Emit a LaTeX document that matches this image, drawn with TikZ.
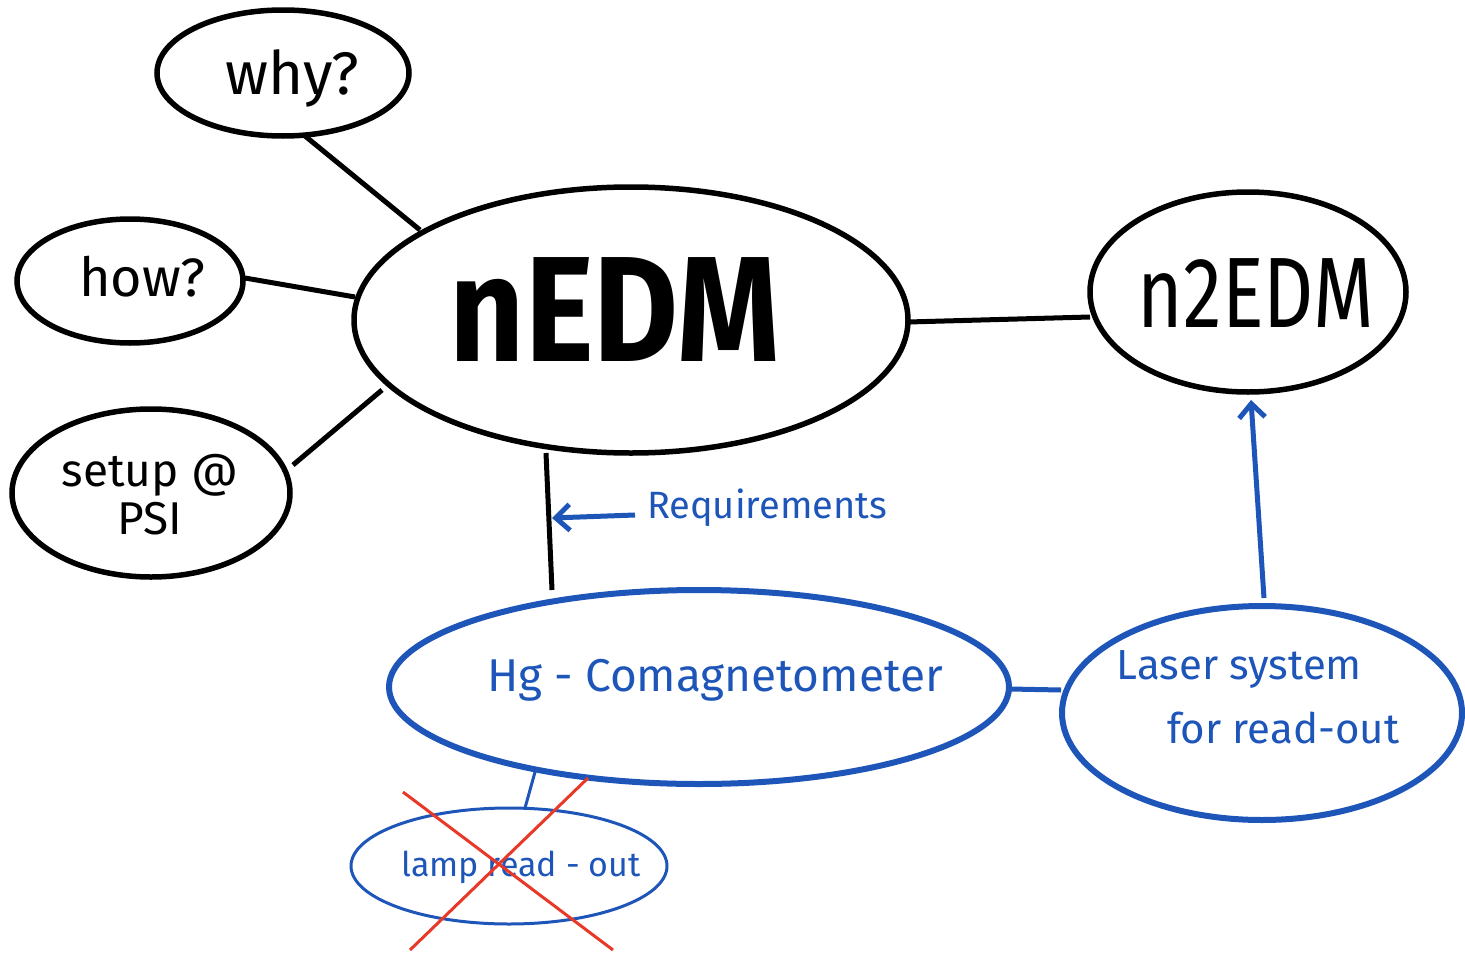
\documentclass[tikz,border=0pt]{standalone}
\usepackage{fontspec}
\setmainfont{Fira Sans}
\usetikzlibrary{arrows.meta}
\definecolor{inkblue}{RGB}{30,85,185}
\definecolor{inkred}{RGB}{232,56,40}
\tikzset{
  bubble/.style={draw=black,line width=5.5pt},
  bluebubble/.style={draw=inkblue,line width=6pt},
  thinblue/.style={draw=inkblue,line width=3pt},
  conn/.style={line width=5pt,black},
  bconn/.style={line width=5pt,inkblue},
  barrow/.style={line width=5pt,inkblue,-{Straight Barb[length=14pt,width=26pt]}},
  cross/.style={line width=3pt,inkred},
  lbl/.style={font=#1, inner sep=0pt},
}
\begin{document}
\begin{tikzpicture}[x=1pt,y=-1pt]
\useasboundingbox (0,0) rectangle (1465,953);
% ellipses
\draw[bubble] (283,73) ellipse [x radius=126, y radius=63];
\draw[bubble] (130,281) ellipse [x radius=113, y radius=62];
\draw[bubble] (151,493) ellipse [x radius=139, y radius=84];
\draw[bubble] (631,320) ellipse [x radius=277, y radius=133];
\draw[bubble] (1248,292) ellipse [x radius=158, y radius=100];
\draw[bluebubble] (699,687) ellipse [x radius=310, y radius=97];
\draw[bluebubble] (1262,713) ellipse [x radius=200, y radius=107];
\draw[thinblue] (509,866) ellipse [x radius=158, y radius=58];
% anchor points on ellipses
\coordinate (whyB) at (305,136);
\coordinate (nedmW) at (420,230);
\coordinate (howE) at (245,278);
\coordinate (nedmL) at (355,297);
\coordinate (setE) at (293,465);
\coordinate (nedmSW) at (382,390);
\coordinate (nedmE) at (908,322);
\coordinate (n2W) at (1090,317);
\coordinate (nedmS) at (546,453);
\coordinate (hgN) at (552,590);
\coordinate (reqS) at (635,515);
\coordinate (reqT) at (552,518);
\coordinate (lasN) at (1264,598);
\coordinate (n2S) at (1251,400);
\coordinate (hgE) at (1010,689);
\coordinate (lasW) at (1061,690);
\coordinate (hgS) at (535,772);
\coordinate (lampN) at (525,808);
\coordinate (x1a) at (403,792);
\coordinate (x1b) at (613,950);
\coordinate (x2a) at (588,778);
\coordinate (x2b) at (410,950);
% texts
\node[lbl=\fontsize{60}{60}\selectfont] (why) at (292,78) {why?};
\node[lbl=\fontsize{54}{54}\selectfont] (how) at (142,277) {how?};
\node[lbl=\fontsize{46}{46}\selectfont, align=center] (setup) at (150,495) {setup @\\[2pt]PSI};
\node[lbl=\fontsize{150}{150}\selectfont\bfseries] (nedm) at (615,310) {\scalebox{0.87}[1]{nEDM}};
\node[lbl=\fontsize{100}{100}\selectfont] (n2edm) at (1256,293) {\scalebox{0.78}[1]{n2EDM}};
\node[lbl=\fontsize{46}{46}\selectfont\color{inkblue}] (hg) at (715,680) {Hg - Comagnetometer};
\node[lbl=\fontsize{42}{42}\selectfont\color{inkblue}, align=left] (laser) at (1258,697) {Laser system\\[22pt]\hspace{1.2em}for read-out};
\node[lbl=\fontsize{34}{34}\selectfont\color{inkblue}] (lamp) at (521,867) {lamp read - out};
\node[lbl=\fontsize{38}{38}\selectfont\color{inkblue}] (req) at (767,508) {Requirements};
% connectors
\draw[conn] (nedmW) -- (whyB);
\draw[conn] (howE) -- (nedmL);
\draw[conn] (setE) -- (nedmSW);
\draw[conn] (nedmE) -- (n2W);
\draw[conn] (nedmS) -- (hgN);
\draw[barrow] (reqS) -- (reqT);
\draw[barrow] (lasN) -- (n2S);
\draw[bconn] (hgE) -- (lasW);
\draw[thinblue] (hgS) -- (lampN);
\draw[cross] (x1a) -- (x1b);
\draw[cross] (x2a) -- (x2b);
\end{tikzpicture}
\end{document}
